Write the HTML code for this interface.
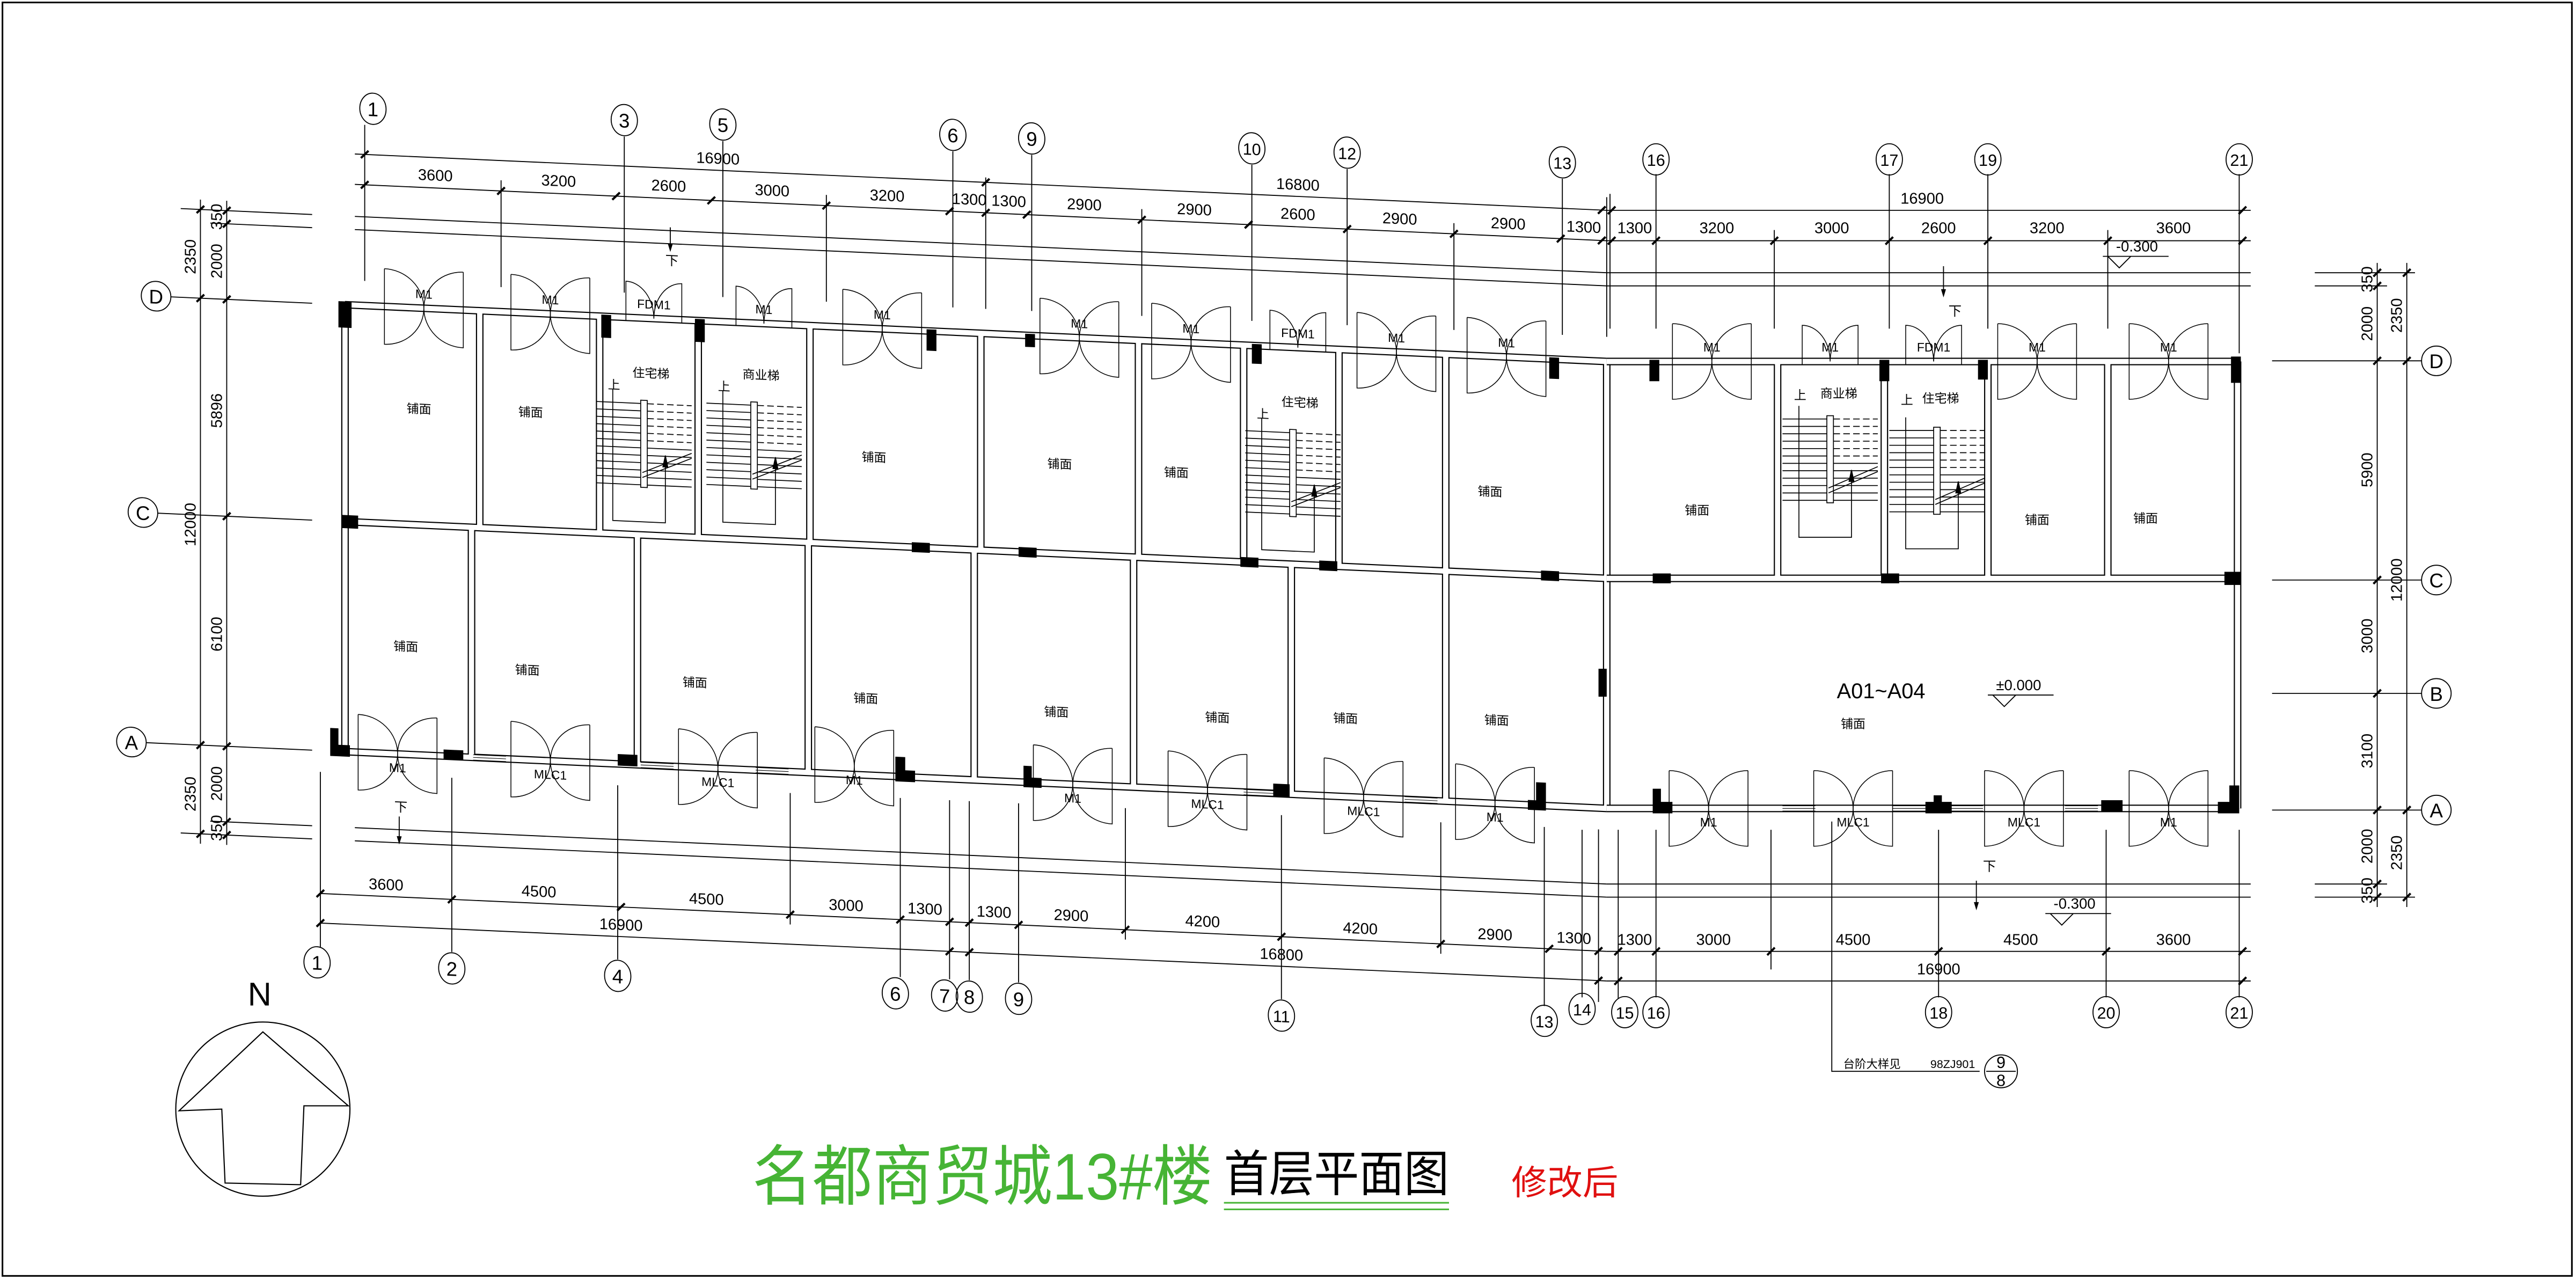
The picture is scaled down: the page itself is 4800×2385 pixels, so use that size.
<!DOCTYPE html>
<html><head><meta charset="utf-8"><style>
html,body{margin:0;padding:0;background:#fff}
svg{display:block}
text{font-family:"Liberation Sans","Noto Sans CJK SC",sans-serif;fill:#000}
</style></head><body>
<svg width="4800" height="2385" viewBox="0 0 1568 779" preserveAspectRatio="none" xmlns="http://www.w3.org/2000/svg">
<defs>
<g id="dF" fill="none" stroke="#000" stroke-width="0.5"><path d="M-24,-23 V23 A24,23 0 0 0 -24,-23"/><path d="M24,-23 V23 A24,23 0 0 1 24,-23"/></g>
<g id="dH" fill="none" stroke="#000" stroke-width="0.5"><path d="M-17,2 V-22 A17,22 0 0 1 0,0"/><path d="M17,2 V-22 A17,22 0 0 0 0,0"/></g>
<g id="tk"><line x1="-2.3" y1="2.3" x2="2.3" y2="-2.3" stroke="#000" stroke-width="1.3"/></g>
<g id="win" stroke="#000" stroke-width="0.35"><line x1="0" y1="-1.6" x2="20" y2="-1.6"/><line x1="0" y1="0" x2="20" y2="0"/><line x1="0" y1="1.6" x2="20" y2="1.6"/></g>
<g id="st" fill="none" stroke="#000" stroke-width="0.55">
<path d="M0,0H27M0,4.5H27M0,9H27M0,13.5H27M0,18H27M0,22.5H27M0,27H27M0,31.5H27M0,36H27M0,40.5H27M0,45H27M0,49.5H27"/>
<path d="M31,0H58M31,4.5H58M31,9H58M31,13.5H58M31,18H58M31,22.5H58" stroke-dasharray="4,2"/>
<path d="M31,27H58M31,31.5H58M31,36H58M31,40.5H58M31,45H58M31,49.5H58"/>
<rect x="27" y="-2" width="4" height="53" fill="#fff"/>
<path d="M28,42 L58,29 M28,45 L58,32" />
<path d="M10,-8 V72 H42 V33"/>
<polygon points="40.5,38 43.5,38 42,31" fill="#000"/>
</g>
</defs>
<rect x="1.5" y="1.5" width="1564" height="775" fill="none" stroke="#000" stroke-width="1"/>

<!-- ============ LEFT (skewed) PART ============ -->
<g transform="matrix(1 0.045 0 1 0 -44.01)">
<!-- walls -->
<path id="wL" fill="none" d="M210,220H978M210,352H978M210,492H978M210,220V492M292,220V352M365,220V352M425,220V352M493,220V352M597,220V352M693,220V352M757,220V352M815,220V352M880,220V352M287,352V492M388,352V492M492,352V492M593,352V492M690,352V492M786,352V492M880,352V492M978,220V492"/>
<use href="#wL" stroke="#000" stroke-width="4.6"/>
<use href="#wL" stroke="#fff" stroke-width="3.2"/>
<!-- columns -->
<g fill="#000">
<rect x="206" y="218" width="8" height="16"/><rect x="366" y="219" width="6" height="14"/><rect x="423" y="219" width="6" height="14"/><rect x="564" y="219" width="6" height="13"/><rect x="624" y="219" width="6" height="8"/><rect x="762" y="219" width="6" height="12"/><rect x="943" y="219" width="6" height="13"/>
<rect x="208" y="348" width="10" height="8"/><rect x="555" y="349" width="11" height="6"/><rect x="620" y="349" width="11" height="6"/><rect x="755" y="349" width="11" height="6"/><rect x="803" y="349" width="11" height="6"/><rect x="938" y="349" width="11" height="6"/>
<path d="M201,478H206V488H213V495H201Z"/><rect x="270" y="488" width="12" height="6"/><rect x="376" y="486" width="12" height="7"/><path d="M545,480H551V488H557V495H545Z"/><path d="M623,482H628V489H634V495H623Z"/><rect x="775" y="486" width="10" height="8"/><path d="M935,478H941V495H930V489H935Z"/>
</g>
<!-- windows -->
<use href="#win" x="288" y="492"/><use href="#win" x="460" y="492"/><use href="#win" x="757" y="492"/><use href="#win" x="855" y="492"/><use href="#win" x="390" y="492"/>
<!-- doors -->
<use href="#dF" x="258" y="220"/><use href="#dF" x="335" y="220"/><use href="#dF" x="537" y="220"/><use href="#dF" x="657" y="220"/><use href="#dF" x="725" y="220"/><use href="#dF" x="850" y="220"/><use href="#dF" x="917" y="220"/>
<use href="#dH" x="398" y="220"/><use href="#dH" x="465" y="220"/><use href="#dH" x="790" y="220"/>
<use href="#dF" x="242" y="492"/><use href="#dF" x="335" y="492"/><use href="#dF" x="437" y="492"/><use href="#dF" x="520" y="487"/><use href="#dF" x="653" y="492"/><use href="#dF" x="735" y="492"/><use href="#dF" x="830" y="492"/><use href="#dF" x="910" y="492"/>
<g font-size="7.5" text-anchor="middle">
<text x="258" y="214">M1</text><text x="335" y="214">M1</text><text x="537" y="214">M1</text><text x="657" y="214">M1</text><text x="725" y="214">M1</text><text x="850" y="214">M1</text><text x="917" y="214">M1</text>
<text x="398" y="214">FDM1</text><text x="465" y="214">M1</text><text x="790" y="214">FDM1</text>
<text x="242" y="503">M1</text><text x="335" y="503">MLC1</text><text x="437" y="503">MLC1</text><text x="520" y="498">M1</text><text x="653" y="503">M1</text><text x="735" y="503">MLC1</text><text x="830" y="503">MLC1</text><text x="910" y="503">M1</text>
</g>
<!-- stairs -->
<use href="#st" x="363" y="272"/><use href="#st" x="430" y="270"/><use href="#st" x="758" y="272"/>
<g font-size="7.5"><text x="370" y="264">上</text><text x="385" y="256">住宅梯</text><text x="437" y="262">上</text><text x="452" y="254">商业梯</text><text x="765" y="264">上</text><text x="780" y="256">住宅梯</text></g>
<!-- room labels -->
<g font-size="7.5" text-anchor="middle">
<text x="255" y="284">铺面</text><text x="323" y="283">铺面</text><text x="532" y="301">铺面</text><text x="645" y="300">铺面</text><text x="716" y="302">铺面</text><text x="907" y="305">铺面</text>
<text x="247" y="429">铺面</text><text x="321" y="440">铺面</text><text x="423" y="443">铺面</text><text x="527" y="448">铺面</text><text x="643" y="451">铺面</text><text x="741" y="450">铺面</text><text x="819" y="447">铺面</text><text x="911" y="444">铺面</text>
</g>
<!-- top dims -->
<g stroke="#000" stroke-width="0.6" fill="none">
<path d="M216,128H978M216,146.5H978M216,166H978M216,174H978"/>
<path d="M222,110V205M380,110V205M440,110V205M580,110V205M628,110V205M762,110V205M820,110V205M951,110V205"/>
<path d="M305,140V205M503,140V205M600,125V205M695,140V205M885,140V205M978,120V205"/>
<path d="M216,538H978M216,546H978M195,579H978M195,597H978"/>
<path d="M195,505V612M275,505V611M376,505V611M481,505V585M548,505V614M578,505V614M590,505V614M620,505V614M685,505V585M780,505V617M877,505V585M940,505V614M973,505V610"/>
</g>
<g fill="none" stroke="#000" stroke-width="0.6">
<ellipse cx="227" cy="100" rx="8" ry="9.5"/><ellipse cx="380" cy="100" rx="8" ry="9.5"/><ellipse cx="440" cy="100" rx="8" ry="9.5"/><ellipse cx="580" cy="100" rx="8" ry="9.5"/><ellipse cx="628" cy="100" rx="8" ry="9.5"/><ellipse cx="762" cy="100" rx="8" ry="9.5"/><ellipse cx="820" cy="100" rx="8" ry="9.5"/><ellipse cx="951" cy="100" rx="8" ry="9.5"/>
<ellipse cx="193" cy="621" rx="8" ry="9.5"/><ellipse cx="275" cy="621" rx="8" ry="9.5"/><ellipse cx="376" cy="621" rx="8" ry="9.5"/><ellipse cx="545" cy="624" rx="8" ry="9.5"/><ellipse cx="575" cy="624" rx="8" ry="9.5"/><ellipse cx="590" cy="624" rx="8" ry="9.5"/><ellipse cx="620" cy="624" rx="8" ry="9.5"/><ellipse cx="780" cy="627" rx="8" ry="9.5"/><ellipse cx="940" cy="623" rx="8" ry="9.5"/>
<ellipse cx="95" cy="220" rx="9" ry="9"/><ellipse cx="87" cy="352" rx="9" ry="9"/><ellipse cx="80" cy="492" rx="9" ry="9"/>
</g>
<g font-size="12" text-anchor="middle" font-family="Liberation Serif">
<text x="227" y="104.5">1</text><text x="380" y="104.5">3</text><text x="440" y="104.5">5</text><text x="580" y="104.5">6</text><text x="628" y="104.5">9</text><text x="762" y="104" font-size="10">10</text><text x="820" y="104" font-size="10">12</text><text x="951" y="104" font-size="10">13</text>
<text x="193" y="625.5">1</text><text x="275" y="625.5">2</text><text x="376" y="625.5">4</text><text x="545" y="628.5">6</text><text x="575" y="628.5">7</text><text x="590" y="628.5">8</text><text x="620" y="628.5">9</text><text x="780" y="631" font-size="10">11</text><text x="940" y="627" font-size="10">13</text>
<text x="95" y="224.5">D</text><text x="87" y="356.5">C</text><text x="80" y="496.5">A</text>
</g>
<g>
<use href="#tk" x="222" y="128"/><use href="#tk" x="600" y="128"/><use href="#tk" x="975" y="128"/>
<use href="#tk" x="222" y="146.5"/><use href="#tk" x="305" y="146.5"/><use href="#tk" x="375" y="146.5"/><use href="#tk" x="433" y="146.5"/><use href="#tk" x="503" y="146.5"/><use href="#tk" x="578" y="146.5"/><use href="#tk" x="600" y="146.5"/><use href="#tk" x="625" y="146.5"/><use href="#tk" x="695" y="146.5"/><use href="#tk" x="760" y="146.5"/><use href="#tk" x="820" y="146.5"/><use href="#tk" x="885" y="146.5"/><use href="#tk" x="950" y="146.5"/><use href="#tk" x="975" y="146.5"/>
<use href="#tk" x="195" y="579"/><use href="#tk" x="275" y="579"/><use href="#tk" x="378" y="579"/><use href="#tk" x="481" y="579"/><use href="#tk" x="548" y="579"/><use href="#tk" x="578" y="579"/><use href="#tk" x="590" y="579"/><use href="#tk" x="620" y="579"/><use href="#tk" x="685" y="579"/><use href="#tk" x="780" y="579"/><use href="#tk" x="877" y="579"/><use href="#tk" x="943" y="579"/><use href="#tk" x="973" y="579"/>
<use href="#tk" x="195" y="597"/><use href="#tk" x="578" y="597"/><use href="#tk" x="590" y="597"/><use href="#tk" x="973" y="597"/>
</g>
<g font-size="9.5" text-anchor="middle">
<text x="437" y="124">16900</text><text x="790" y="124">16800</text>
<text x="265" y="142">3600</text><text x="340" y="142">3200</text><text x="407" y="142">2600</text><text x="470" y="142">3000</text><text x="540" y="142">3200</text><text x="590" y="142">1300</text><text x="614" y="142">1300</text><text x="660" y="142">2900</text><text x="727" y="142">2900</text><text x="790" y="142">2600</text><text x="852" y="142">2900</text><text x="918" y="142">2900</text><text x="964" y="142">1300</text>
<text x="235" y="575">3600</text><text x="328" y="575">4500</text><text x="430" y="575">4500</text><text x="515" y="575">3000</text><text x="563" y="575">1300</text><text x="605" y="575">1300</text><text x="652" y="575">2900</text><text x="732" y="575">4200</text><text x="828" y="575">4200</text><text x="910" y="575">2900</text><text x="958" y="575">1300</text>
<text x="378" y="593">16900</text><text x="780" y="593">16800</text>
</g>
<!-- arrows 下 -->
<g stroke="#000" stroke-width="0.6"><line x1="408" y1="164" x2="408" y2="178"/><line x1="243" y1="530" x2="243" y2="546"/></g>
<polygon points="406.5,174 409.5,174 408,179" fill="#000"/><polygon points="241.5,542 244.5,542 243,547" fill="#000"/>
<g font-size="8"><text x="405" y="187">下</text><text x="240" y="527">下</text></g>
<!-- left vertical dims -->
<g stroke="#000" stroke-width="0.6" fill="none">
<path d="M122,160V552M138,160V552M110,166H190M128,174H190M104,220H190M96,352H190M89,492H190M128,538H190M110,546H190"/>
</g>
<use href="#tk" x="122" y="166"/><use href="#tk" x="138" y="166"/><use href="#tk" x="138" y="174"/><use href="#tk" x="122" y="220"/><use href="#tk" x="138" y="220"/><use href="#tk" x="138" y="352"/><use href="#tk" x="122" y="492"/><use href="#tk" x="138" y="492"/><use href="#tk" x="138" y="538"/><use href="#tk" x="122" y="546"/><use href="#tk" x="138" y="546"/>
<g font-size="9.5" text-anchor="middle">
<text transform="translate(135,170) rotate(-90)">350</text><text transform="translate(119,195) rotate(-90)">2350</text><text transform="translate(135,197) rotate(-90)">2000</text><text transform="translate(135,288) rotate(-90)">5896</text><text transform="translate(119,358) rotate(-90)">12000</text><text transform="translate(135,424) rotate(-90)">6100</text><text transform="translate(135,515) rotate(-90)">2000</text><text transform="translate(119,522) rotate(-90)">2350</text><text transform="translate(135,542) rotate(-90)">350</text>
</g>
</g>

<!-- ============ RIGHT PART ============ -->
<path id="wR" fill="none" d="M978,220H1362M978,352H1362M978,492H1362M1362,220V492M1082,220V352M1147,220V352M1210,220V352M1283,220V352"/>
<use href="#wR" stroke="#000" stroke-width="4.6"/>
<use href="#wR" stroke="#fff" stroke-width="3.2"/>
<g fill="#000">
<rect x="1004" y="219" width="6" height="13"/><rect x="1144" y="219" width="6" height="13"/><rect x="1204" y="219" width="6" height="12"/><rect x="1358" y="217" width="6" height="16"/>
<rect x="1006" y="349" width="11" height="6"/><rect x="1145" y="349" width="11" height="6"/><rect x="1354" y="348" width="10" height="8"/>
<rect x="973" y="407" width="5" height="17"/>
<path d="M1006,480H1011V488H1018V495H1006Z"/><path d="M1177,484H1182V488H1188V495H1172V488H1177Z"/><rect x="1279" y="487" width="13" height="7"/><path d="M1357,478H1363V495H1350V488H1357Z"/>
</g>
<use href="#win" x="1085" y="492"/><use href="#win" x="1152" y="492"/><use href="#win" x="1257" y="492"/><use href="#win" x="1187" y="492"/>
<use href="#dF" x="1042" y="220"/><use href="#dF" x="1240" y="220"/><use href="#dF" x="1320" y="220"/>
<use href="#dH" x="1114" y="220"/><use href="#dH" x="1177" y="220"/>
<use href="#dF" x="1040" y="492"/><use href="#dF" x="1128" y="492"/><use href="#dF" x="1232" y="492"/><use href="#dF" x="1320" y="492"/>
<g font-size="7.5" text-anchor="middle">
<text x="1042" y="214">M1</text><text x="1240" y="214">M1</text><text x="1320" y="214">M1</text><text x="1114" y="214">M1</text><text x="1177" y="214">FDM1</text>
<text x="1040" y="503">M1</text><text x="1128" y="503">MLC1</text><text x="1232" y="503">MLC1</text><text x="1320" y="503">M1</text>
</g>
<use href="#st" x="1085" y="255"/><use href="#st" x="1150" y="262"/>
<g font-size="7.5"><text x="1092" y="243">上</text><text x="1108" y="242">商业梯</text><text x="1157" y="246">上</text><text x="1170" y="245">住宅梯</text></g>
<g font-size="7.5" text-anchor="middle">
<text x="1033" y="313">铺面</text><text x="1240" y="319">铺面</text><text x="1306" y="318">铺面</text><text x="1128" y="443">铺面</text>
</g>
<text x="1145" y="425" font-size="13" text-anchor="middle">A01~A04</text>
<text x="1215" y="420" font-size="9">±0.000</text>
<g stroke="#000" stroke-width="0.6" fill="none"><path d="M1210,423H1250M1213,423L1220,430L1227,423"/></g>
<!-- top dims right -->
<g stroke="#000" stroke-width="0.6" fill="none">
<path d="M978,128H1370M978,146.5H1370M978,166H1370M978,174H1370"/>
<path d="M1008,106V200M1150,106V200M1210,106V200M1363,106V215M980,118V200M1080,140V200M1283,140V200"/>
<path d="M978,538H1370M978,546H1370M978,579H1370M978,597H1370"/>
<path d="M985,505V608M1008,505V607M1078,505V590M1180,505V607M1282,505V607M1363,505V607M963,505V607"/>
<path d="M1280,156H1320M1283,156L1290,163L1297,156"/>
<path d="M1245,556H1285M1248,556L1255,563L1262,556"/>
<path d="M1115,500V652H1205"/>
<path d="M1183,162V180M1203,536V553"/>
</g>
<polygon points="1181.5,176 1184.5,176 1183,181" fill="#000"/><polygon points="1201.5,549 1204.5,549 1203,554" fill="#000"/>
<g font-size="8"><text x="1186" y="192">下</text><text x="1207" y="530">下</text></g>
<text x="1288" y="153" font-size="9">-0.300</text>
<text x="1250" y="553" font-size="9">-0.300</text>
<g><use href="#tk" x="981" y="128"/><use href="#tk" x="1365" y="128"/>
<use href="#tk" x="981" y="146.5"/><use href="#tk" x="1008" y="146.5"/><use href="#tk" x="1080" y="146.5"/><use href="#tk" x="1150" y="146.5"/><use href="#tk" x="1210" y="146.5"/><use href="#tk" x="1283" y="146.5"/><use href="#tk" x="1365" y="146.5"/>
<use href="#tk" x="985" y="579"/><use href="#tk" x="1008" y="579"/><use href="#tk" x="1078" y="579"/><use href="#tk" x="1180" y="579"/><use href="#tk" x="1282" y="579"/><use href="#tk" x="1365" y="579"/>
<use href="#tk" x="985" y="597"/><use href="#tk" x="1365" y="597"/></g>
<g font-size="9.5" text-anchor="middle">
<text x="1170" y="124">16900</text>
<text x="995" y="142">1300</text><text x="1045" y="142">3200</text><text x="1115" y="142">3000</text><text x="1180" y="142">2600</text><text x="1246" y="142">3200</text><text x="1323" y="142">3600</text>
<text x="995" y="575">1300</text><text x="1043" y="575">3000</text><text x="1128" y="575">4500</text><text x="1230" y="575">4500</text><text x="1323" y="575">3600</text>
<text x="1180" y="593">16900</text>
</g>
<g fill="none" stroke="#000" stroke-width="0.6">
<ellipse cx="1008" cy="97" rx="8" ry="9.5"/><ellipse cx="1150" cy="97" rx="8" ry="9.5"/><ellipse cx="1210" cy="97" rx="8" ry="9.5"/><ellipse cx="1363" cy="97" rx="8" ry="9.5"/>
<ellipse cx="963" cy="614" rx="8" ry="9.5"/><ellipse cx="989" cy="616" rx="8" ry="9.5"/><ellipse cx="1008" cy="616" rx="8" ry="9.5"/><ellipse cx="1180" cy="616" rx="8" ry="9.5"/><ellipse cx="1282" cy="616" rx="8" ry="9.5"/><ellipse cx="1363" cy="616" rx="8" ry="9.5"/>
<ellipse cx="1483" cy="219.6" rx="9" ry="9"/><ellipse cx="1483" cy="353" rx="9" ry="9"/><ellipse cx="1483" cy="422" rx="9" ry="9"/><ellipse cx="1483" cy="493" rx="9" ry="9"/>
<circle cx="1218" cy="652" r="10"/><path d="M1209,652H1227"/>
</g>
<g font-size="10" text-anchor="middle" font-family="Liberation Serif">
<text x="1008" y="101">16</text><text x="1150" y="101">17</text><text x="1210" y="101">19</text><text x="1363" y="101">21</text>
<text x="963" y="618">14</text><text x="989" y="620">15</text><text x="1008" y="620">16</text><text x="1180" y="620">18</text><text x="1282" y="620">20</text><text x="1363" y="620">21</text>
<text x="1483" y="224" font-size="12">D</text><text x="1483" y="357.5" font-size="12">C</text><text x="1483" y="426.5" font-size="12">B</text><text x="1483" y="497.5" font-size="12">A</text>
<text x="1218" y="650">9</text><text x="1218" y="661">8</text>
</g>
<text x="1122" y="650" font-size="7">台阶大样见</text><text x="1175" y="650" font-size="7">98ZJ901</text>
<!-- right vertical dims -->
<g stroke="#000" stroke-width="0.6" fill="none">
<path d="M1447,160V552M1465,160V552M1409,166H1470M1409,174H1453M1383,219.6H1474M1383,353H1474M1383,422H1474M1383,493H1474M1409,538H1453M1409,546H1470"/>
</g>
<use href="#tk" x="1447" y="166"/><use href="#tk" x="1465" y="166"/><use href="#tk" x="1447" y="174"/><use href="#tk" x="1447" y="219.6"/><use href="#tk" x="1465" y="219.6"/><use href="#tk" x="1447" y="353"/><use href="#tk" x="1447" y="422"/><use href="#tk" x="1447" y="493"/><use href="#tk" x="1465" y="493"/><use href="#tk" x="1447" y="538"/><use href="#tk" x="1447" y="546"/><use href="#tk" x="1465" y="546"/>
<g font-size="9.5" text-anchor="middle">
<text transform="translate(1444,170) rotate(-90)">350</text><text transform="translate(1462,192) rotate(-90)">2350</text><text transform="translate(1444,197) rotate(-90)">2000</text><text transform="translate(1444,286) rotate(-90)">5900</text><text transform="translate(1462,353) rotate(-90)">12000</text><text transform="translate(1444,387) rotate(-90)">3000</text><text transform="translate(1444,457) rotate(-90)">3100</text><text transform="translate(1444,515) rotate(-90)">2000</text><text transform="translate(1462,519) rotate(-90)">2350</text><text transform="translate(1444,542) rotate(-90)">350</text>
</g>

<!-- north arrow -->
<circle cx="160" cy="675" r="53" fill="none" stroke="#000" stroke-width="0.7"/>
<path d="M109,676 L160,628 L212,673 L185,673 L183,721 L137,720 L135,675 Z" fill="none" stroke="#000" stroke-width="0.7"/>
<text x="158" y="612" font-size="20" text-anchor="middle">N</text>

<!-- title -->
<text x="458" y="730" font-size="40" fill="#46b435" style="fill:#46b435" textLength="280" lengthAdjust="spacingAndGlyphs">名都商贸城13#楼</text>
<text x="745" y="725" font-size="30" textLength="137" lengthAdjust="spacingAndGlyphs">首层平面图</text>
<path d="M745,732H882M745,736H882" stroke="#46b435" stroke-width="1"/>
<text x="920" y="727" font-size="21" style="fill:#e01010" textLength="65" lengthAdjust="spacingAndGlyphs">修改后</text>
</svg>
</body></html>
